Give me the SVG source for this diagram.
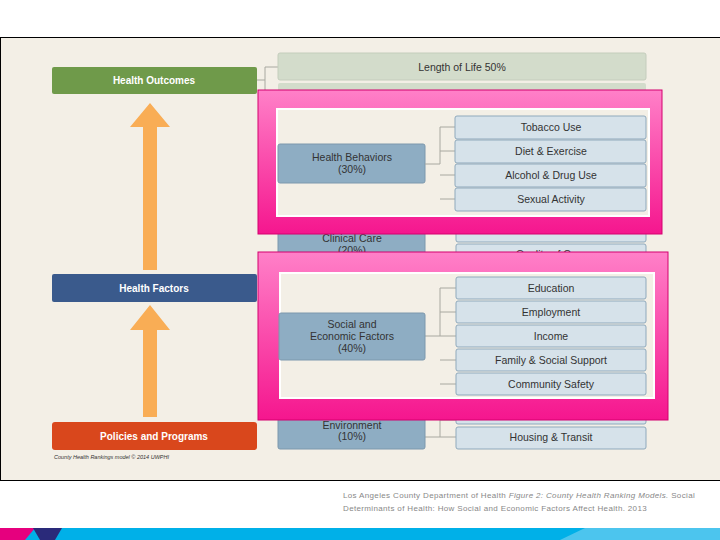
<svg xmlns="http://www.w3.org/2000/svg" width="720" height="540" viewBox="0 0 720 540">
<defs>
<style>
.t{font-family:"Liberation Sans",Arial,sans-serif;text-anchor:middle;}
.lb{fill:#d6e2ea;stroke:#8fa9bc;stroke-width:1}
.mb{fill:#8eadc3;stroke:#7d98ad;stroke-width:1}
.ln{stroke:#a8a8a0;stroke-width:1;fill:none}
</style>
<linearGradient id="pk" x1="0" y1="0" x2="0" y2="1"><stop offset="0" stop-color="#ff80c8"/><stop offset="1" stop-color="#f5168e"/></linearGradient>
</defs>
<rect width="720" height="540" fill="#fff"/>
<rect x="0.5" y="37.5" width="722" height="443" fill="#f3efe6" stroke="#000"/>
<g id="connectors" class="ln">
<path d="M257 80H265V67H278M265 80V94H278"/>
<path d="M425 437H440V420H456M440 437H456"/>
</g>
<g id="arrows" fill="#f9ad55">
<path d="M143 270V127H130L150 103L170 127H157V270Z"/>
<path d="M143 417V330H130L150 305L170 330H157V417Z"/>
</g>
<g id="outcomes"><rect x="52" y="67" width="205" height="27" rx="2" fill="#6f9a4a"/><text class="t" x="154" y="84" font-size="10" font-weight="bold" fill="#fff">Health Outcomes</text></g>
<g id="factors"><rect x="52" y="274" width="205" height="28" rx="2" fill="#3a5a8c"/><text class="t" x="154" y="292" font-size="10" font-weight="bold" fill="#fff">Health Factors</text></g>
<g id="policies"><rect x="52" y="422" width="205" height="28" rx="3" fill="#d9471c"/><text class="t" x="154" y="440" font-size="10" font-weight="bold" fill="#fff">Policies and Programs</text>
<text x="54" y="459" font-family="Liberation Sans,sans-serif" font-size="5.5" font-style="italic" fill="#333">County Health Rankings model © 2014 UWPHI</text></g>
<g id="length"><rect x="278" y="53" width="368" height="27" rx="2" fill="#d3dccb" stroke="#c4cdbc"/><text class="t" x="462" y="71" font-size="10.5" fill="#333">Length of Life 50%</text>
<rect x="278" y="83" width="368" height="20" rx="2" fill="#d3dccb"/></g>
<g id="clinical"><rect x="278" y="225" width="147" height="35" rx="2" class="mb"/><text class="t" x="352" y="242" font-size="10.5" fill="#333">Clinical Care</text><text class="t" x="352" y="254" font-size="10.5" fill="#333">(20%)</text>
<rect x="456" y="225" width="190" height="17" rx="2" class="lb"/><rect x="456" y="244" width="190" height="20" rx="2" class="lb"/><text class="t" x="551" y="258" font-size="10.5" fill="#333">Quality of Care</text></g>
<g id="env"><rect x="278" y="412" width="147" height="37" rx="2" class="mb"/><text class="t" x="352" y="429" font-size="10.5" fill="#333">Environment</text><text class="t" x="352" y="440" font-size="10.5" fill="#333">(10%)</text>
<rect x="456" y="412" width="190" height="12" rx="2" class="lb"/><rect x="456" y="427" width="190" height="22" rx="2" class="lb"/><text class="t" x="551" y="441" font-size="10.5" fill="#333">Housing &amp; Transit</text></g>
<g id="pink1"><rect x="258" y="90" width="404" height="144" fill="url(#pk)" stroke="#d4006e"/><rect x="276" y="108" width="374" height="109" fill="#fff"/>
<rect x="278" y="110" width="370" height="105" fill="#f3efe6"/></g>
<g id="behaviors"><rect x="278" y="144" width="147" height="39" rx="2" class="mb"/><text class="t" x="352" y="161" font-size="10.5" fill="#333">Health Behaviors</text><text class="t" x="352" y="173" font-size="10.5" fill="#333">(30%)</text></g>
<path class="ln" d="M425 164H440V127H455M440 151H455M440 175H455M440 199H455"/>
<g id="b1"><rect x="455" y="116" width="191" height="23" rx="2" class="lb"/><text class="t" x="551" y="131" font-size="10.5" fill="#333">Tobacco Use</text></g>
<g id="b2"><rect x="455" y="140" width="191" height="23" rx="2" class="lb"/><text class="t" x="551" y="155" font-size="10.5" fill="#333">Diet &amp; Exercise</text></g>
<g id="b3"><rect x="455" y="164" width="191" height="23" rx="2" class="lb"/><text class="t" x="551" y="179" font-size="10.5" fill="#333">Alcohol &amp; Drug Use</text></g>
<g id="b4"><rect x="455" y="188" width="191" height="23" rx="2" class="lb"/><text class="t" x="551" y="203" font-size="10.5" fill="#333">Sexual Activity</text></g>
<g id="pink2"><rect x="258" y="252" width="410" height="168" fill="url(#pk)" stroke="#d4006e"/><rect x="279" y="272" width="376" height="127" fill="#fff"/><rect x="281" y="274" width="372" height="123" fill="#f3efe6"/></g>
<path class="ln" d="M425 336H440V288H456M440 312H456M440 336H456M440 360H456M440 384H456"/>
<g id="social"><rect x="279" y="313" width="146" height="47" rx="2" class="mb"/><text class="t" x="352" y="328" font-size="10.5" fill="#333">Social and</text><text class="t" x="352" y="340" font-size="10.5" fill="#333">Economic Factors</text><text class="t" x="352" y="352" font-size="10.5" fill="#333">(40%)</text></g>
<g id="s1"><rect x="456" y="277" width="190" height="22" rx="2" class="lb"/><text class="t" x="551" y="292" font-size="10.5" fill="#333">Education</text></g>
<g id="s2"><rect x="456" y="301" width="190" height="22" rx="2" class="lb"/><text class="t" x="551" y="316" font-size="10.5" fill="#333">Employment</text></g>
<g id="s3"><rect x="456" y="325" width="190" height="22" rx="2" class="lb"/><text class="t" x="551" y="340" font-size="10.5" fill="#333">Income</text></g>
<g id="s4"><rect x="456" y="349" width="190" height="22" rx="2" class="lb"/><text class="t" x="551" y="364" font-size="10.5" fill="#333">Family &amp; Social Support</text></g>
<g id="s5"><rect x="456" y="373" width="190" height="22" rx="2" class="lb"/><text class="t" x="551" y="388" font-size="10.5" fill="#333">Community Safety</text></g>
<g id="caption" font-family="Liberation Sans,sans-serif" font-size="8" fill="#888" letter-spacing="0.35">
<text x="343" y="498">Los Angeles County Department of Health <tspan font-style="italic">Figure 2: County Health Ranking Models.</tspan> Social</text>
<text x="343" y="511">Determinants of Health: How Social and Economic Factors Affect Health. 2013</text></g>
<g id="strip"><rect x="0" y="528" width="720" height="12" fill="#00b0e8"/><path d="M0 528H35L25 540H0Z" fill="#e6007e"/><path d="M33 528H62L55 540H40Z" fill="#2a2a7a"/><path d="M560 540L585 528H720V540Z" fill="#7fd3f2" opacity="0.6"/></g>
</svg>
